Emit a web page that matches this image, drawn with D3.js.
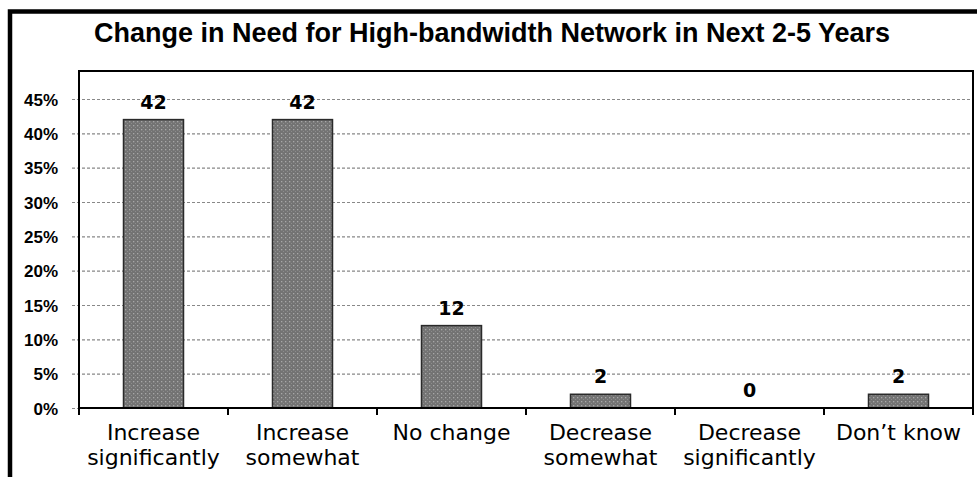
<!DOCTYPE html>
<html>
<head>
<meta charset="utf-8">
<script src="https://cdn.jsdelivr.net/npm/d3@7"></script>
<style>
  html, body { margin: 0; padding: 0; background: #fff; }
  svg { display: block; }
</style>
</head>
<body>
<svg id="chart" width="977" height="477"></svg>
<script>
// Survey responses: change in need for a high-bandwidth network
const categories = [
  ["Increase", "significantly"],
  ["Increase", "somewhat"],
  ["No change"],
  ["Decrease", "somewhat"],
  ["Decrease", "significantly"],
  ["Don\u2019t know"]
];
const values = [42, 42, 12, 2, 0, 2];
const yTicks = [0, 5, 10, 15, 20, 25, 30, 35, 40, 45];
const title = "Change in Need for High-bandwidth Network in Next 2-5 Years";

const svg = d3.select("#chart");
const W = 977, H = 477;
const plot = { left: 79, right: 973, top: 71, bottom: 408 };

// Outer frame (left and top edges visible)
svg.append("path")
  .attr("d", `M10,${H} L10,11.5 L${W},11.5`)
  .attr("fill", "none").attr("stroke", "#000").attr("stroke-width", 4.5);

// Title
svg.append("text")
  .attr("x", 492).attr("y", 42)
  .attr("text-anchor", "middle")
  .attr("font-family", "Liberation Sans, Arial, sans-serif")
  .attr("font-weight", "bold").attr("font-size", 27)
  .attr("fill", "#000")
  .text(title);

// Dotted fill used for the bars
const defs = svg.append("defs");
const pat = defs.append("pattern")
  .attr("id", "dots").attr("patternUnits", "userSpaceOnUse")
  .attr("width", 4).attr("height", 4);
pat.append("rect").attr("width", 4).attr("height", 4).attr("fill", "#737373");
pat.append("rect").attr("x", 1).attr("y", 1).attr("width", 1.3).attr("height", 1.3).attr("fill", "#a8a8a8");
pat.append("rect").attr("x", 3).attr("y", 3).attr("width", 1).attr("height", 1).attr("fill", "#8c8c8c");

const keys = categories.map((c, i) => i);
const x = d3.scaleBand().domain(keys).range([plot.left, plot.right]).paddingInner(0).paddingOuter(0);
const y = d3.scaleLinear().domain([0, 45]).range([plot.bottom, 99]);
const barW = 60;

// Gridlines (dashed, extending slightly left of the axis) and percent labels
const yAxis = d3.axisLeft(y).tickValues(yTicks).tickFormat(d => d + "%").tickSize(0);
const gy = svg.append("g").attr("transform", `translate(${plot.left - 7},0)`).call(yAxis);
gy.select(".domain").remove();
gy.selectAll(".tick line")
  .attr("x1", 0).attr("x2", plot.right - plot.left + 7)
  .attr("stroke", "#888").attr("stroke-width", 1.2).attr("stroke-dasharray", "3,2");
gy.selectAll(".tick text")
  .attr("x", -14).attr("dy", "0.36em")
  .attr("font-family", "Liberation Sans, Arial, sans-serif")
  .attr("font-weight", "bold").attr("font-size", 17).attr("fill", "#000");

// Bars
svg.append("g").selectAll("rect").data(values).join("rect")
  .attr("x", (d, i) => x(i) + x.bandwidth() / 2 - barW / 2)
  .attr("y", d => y(d))
  .attr("width", barW)
  .attr("height", d => y(0) - y(d))
  .attr("fill", "url(#dots)")
  .attr("stroke", "#2a2a2a").attr("stroke-width", d => d > 0 ? 1.5 : 0);

// Value labels
svg.append("g").selectAll("text").data(values).join("text")
  .attr("x", (d, i) => x(i) + x.bandwidth() / 2)
  .attr("y", d => y(d) - 11)
  .attr("text-anchor", "middle")
  .attr("font-family", "DejaVu Sans, sans-serif")
  .attr("font-weight", "bold").attr("font-size", 19).attr("fill", "#000")
  .text(d => d);

// Plot border: left, top and right edges
svg.append("path")
  .attr("d", `M${plot.left},${plot.bottom} L${plot.left},${plot.top} L${plot.right},${plot.top} L${plot.right},${plot.bottom}`)
  .attr("fill", "none").attr("stroke", "#000").attr("stroke-width", 2);

// Category axis with ticks at band boundaries
const boundaries = keys.map(k => x(k)).concat([plot.right]);
svg.append("line")
  .attr("x1", plot.left).attr("x2", plot.right)
  .attr("y1", plot.bottom).attr("y2", plot.bottom)
  .attr("stroke", "#000").attr("stroke-width", 2);
svg.append("g").selectAll("line").data(boundaries).join("line")
  .attr("x1", d => d).attr("x2", d => d)
  .attr("y1", plot.bottom).attr("y2", plot.bottom + 7)
  .attr("stroke", "#000").attr("stroke-width", 2);

// Category labels
const lab = svg.append("g").selectAll("text").data(categories).join("text")
  .attr("x", (d, i) => x(i) + x.bandwidth() / 2)
  .attr("y", 440)
  .attr("text-anchor", "middle")
  .attr("font-family", "DejaVu Sans, sans-serif")
  .attr("font-size", 22).attr("fill", "#000");
lab.selectAll("tspan").data(d => d).join("tspan")
  .attr("x", function () { return d3.select(this.parentNode).attr("x"); })
  .attr("dy", (d, j) => j === 0 ? 0 : 25)
  .text(d => d);
</script>
</body>
</html>
